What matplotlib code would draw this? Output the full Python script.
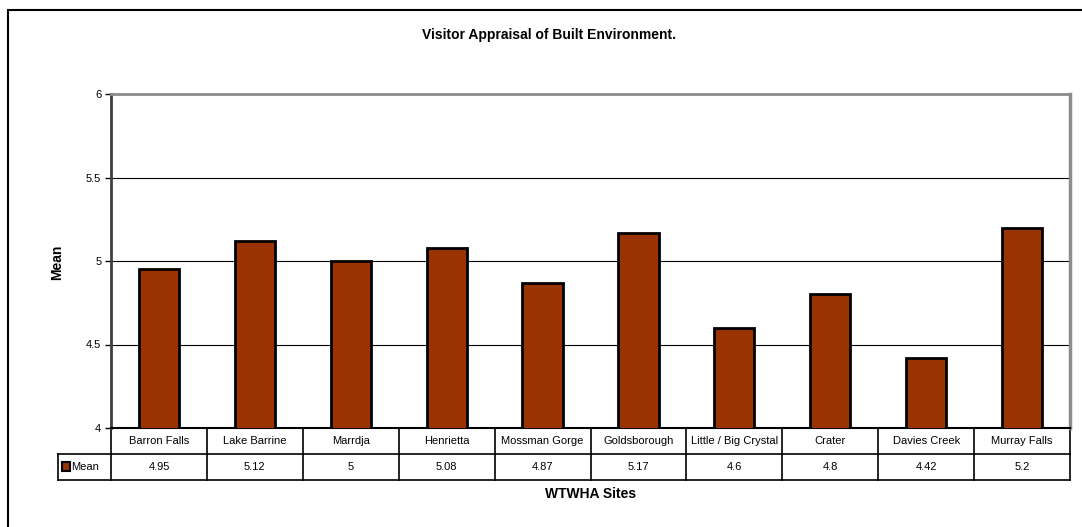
import numpy as np
import matplotlib.pyplot as plt
from matplotlib.patches import Rectangle
from matplotlib.ticker import FuncFormatter
import matplotlib.transforms as mtransforms

# Site names and mean appraisal scores
sites = ['Barron Falls', 'Lake Barrine', 'Marrdja', 'Henrietta', 'Mossman Gorge',
         'Goldsborough', 'Little / Big Crystal', 'Crater', 'Davies Creek', 'Murray Falls']
means = [4.95, 5.12, 5.0, 5.08, 4.87, 5.17, 4.6, 4.8, 4.42, 5.2]
value_labels = ['4.95', '5.12', '5', '5.08', '4.87', '5.17', '4.6', '4.8', '4.42', '5.2']
yticks = [4, 4.5, 5, 5.5, 6]

plt.rcParams['font.family'] = ['Liberation Sans', 'DejaVu Sans']

W, H = 1082, 527
fig = plt.figure(figsize=(W / 100, H / 100), dpi=100)

# outer chart border (runs off the right and bottom edges)
fig.patches.append(Rectangle((8 / W, -0.1), 1.2, 1 - 10 / H + 0.1, transform=fig.transFigure,
                             fill=False, edgecolor='black', linewidth=1.5))

left, right, top, bottom = 111, 1070, 94, 428
ax = fig.add_axes([left / W, 1 - bottom / H, (right - left) / W, (bottom - top) / H])

bar_color = '#993300'
x = np.arange(len(sites))
ax.bar(x, means, width=0.42, color=bar_color, edgecolor='black', linewidth=2, zorder=3)

ax.set_xlim(-0.5, len(sites) - 0.5)
ax.set_ylim(4, 6)
ax.set_yticks(yticks)
ax.yaxis.set_major_formatter(FuncFormatter(lambda v, p: '%g' % v))
ax.tick_params(axis='y', direction='out', length=4, width=1, labelsize=8, pad=3)
ax.set_xticks([])
ax.grid(axis='y', color='black', linewidth=0.8, zorder=1)

ax.spines['left'].set_color('#404040')
ax.spines['left'].set_linewidth(2)
ax.spines['top'].set_color('#8c8c8c')
ax.spines['top'].set_linewidth(2)
ax.spines['right'].set_color('#8c8c8c')
ax.spines['right'].set_linewidth(2.5)
ax.spines['bottom'].set_color('black')
ax.spines['bottom'].set_linewidth(1.5)

# data table under the axis
trans = mtransforms.blended_transform_factory(ax.transData, ax.transAxes)
rh = 26 / (bottom - top)
x_lab = -0.5 - (left - 58) / ((right - left) / len(sites))
lk = dict(color='black', linewidth=1.2, clip_on=False, transform=trans)

for i in range(len(sites) + 1):
    ax.plot([i - 0.5, i - 0.5], [0, -2 * rh], **lk)
ax.plot([-0.5, len(sites) - 0.5], [-rh, -rh], **lk)
ax.plot([x_lab, -0.5], [-rh, -rh], **lk)
ax.plot([x_lab, len(sites) - 0.5], [-2 * rh, -2 * rh], **lk)
ax.plot([x_lab, x_lab], [-rh, -2 * rh], **lk)

for i, (s, v) in enumerate(zip(sites, value_labels)):
    ax.text(i, -0.5 * rh, s, transform=trans, ha='center', va='center', fontsize=8)
    ax.text(i, -1.5 * rh, v, transform=trans, ha='center', va='center', fontsize=8)

# legend key in the label cell
ax.add_patch(Rectangle((x_lab + 0.045, -1.5 * rh - 0.012), 0.075, 0.026, transform=trans,
                       facecolor=bar_color, edgecolor='black', linewidth=1.5, clip_on=False))
ax.text(x_lab + 0.14, -1.5 * rh, 'Mean', transform=trans, ha='left', va='center', fontsize=8)

fig.text(549 / W, 1 - 35 / H, 'Visitor Appraisal of Built Environment.', ha='center',
         va='center', fontsize=10, fontweight='bold')
fig.text(591 / W, 1 - 494 / H, 'WTWHA Sites', ha='center', va='center',
         fontsize=10, fontweight='bold')
fig.text(57 / W, 1 - 262 / H, 'Mean', ha='center', va='center', rotation=90,
         fontsize=10, fontweight='bold')

fig.savefig('out.png', dpi=100)
